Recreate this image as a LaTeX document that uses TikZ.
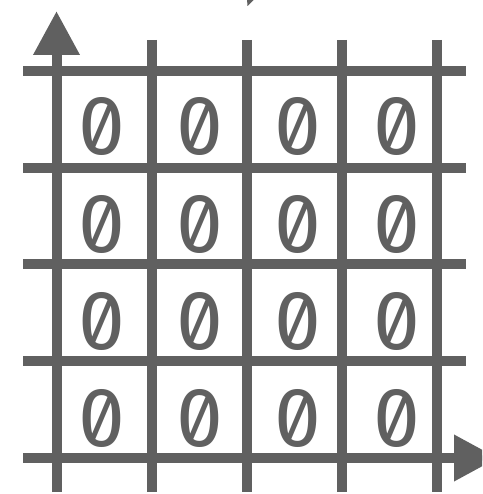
\documentclass[tikz,border=0pt]{standalone}
\usepackage{fontspec}
\newfontfamily\zerofont[RawFeature=+zero]{Fira Sans}
\usetikzlibrary{arrows.meta}
\definecolor{gridgray}{HTML}{606060}
\begin{document}
\begin{tikzpicture}[x=1pt,y=-1pt,
  gridline/.style={draw=gridgray,line width=10pt},
  axis/.style={gridline,-{Triangle[length=44pt,width=44pt]}},
  cellzero/.style={anchor=base,inner sep=0pt,text=gridgray,font=\zerofont\fontsize{84}{84}\selectfont}]
\useasboundingbox (0,0) rectangle (482,494);
\clip (0,0) rectangle (482,494);
% grid coordinates
\coordinate (v1t) at (56.5,492); \coordinate (v1a) at (56.5,11);
\foreach \x [count=\i from 2] in {151.5,246.5,342,437}{
  \coordinate (v\i t) at (\x,40); \coordinate (v\i b) at (\x,492);
}
\foreach \y [count=\j] in {71,168,264,361}{
  \coordinate (h\j l) at (23,\y); \coordinate (h\j r) at (466,\y);
}
\coordinate (h5l) at (23,458); \coordinate (h5a) at (498,458);
% lines
\foreach \i in {2,...,5}{ \draw[gridline] (v\i t) -- (v\i b); }
\foreach \j in {1,...,4}{ \draw[gridline] (h\j l) -- (h\j r); }
\draw[axis] (v1t) -- (v1a);
\draw[axis] (h5l) -- (h5a);
% clipped fragment at top
\fill[gridgray] (247,-1) -- (254.5,-1) -- (247.5,6) -- cycle;
% zeros
\foreach \y [count=\r] in {155,252,349,446}{
  \foreach \x [count=\c] in {102,200,298,397}{
    \node[cellzero] (z\r\c) at (\x,\y) {0};
  }
}
\end{tikzpicture}
\end{document}
